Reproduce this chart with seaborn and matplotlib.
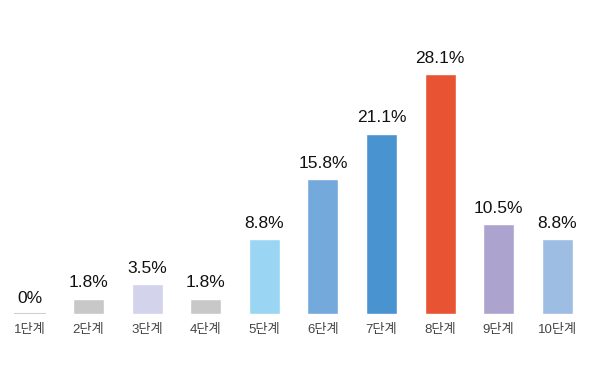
import matplotlib
matplotlib.use("Agg")
import matplotlib.pyplot as plt
import seaborn as sns
import pandas as pd

categories = ["1단계", "2단계", "3단계", "4단계", "5단계", "6단계", "7단계", "8단계", "9단계", "10단계"]
values = [0, 1.8, 3.5, 1.8, 8.8, 15.8, 21.1, 28.1, 10.5, 8.8]
labels = ["0%", "1.8%", "3.5%", "1.8%", "8.8%", "15.8%", "21.1%", "28.1%", "10.5%", "8.8%"]
colors = ["#cfcfcf", "#c8c8c8", "#d3d3ec", "#c8c8c8", "#9ad6f4", "#74a9dc", "#4a93d1", "#e85433", "#aca3cf", "#9dbde3"]

sns.set_theme(style="white")
plt.rcParams["font.family"] = ["Liberation Sans", "Noto Sans CJK KR", "DejaVu Sans"]

df = pd.DataFrame({"cat": categories, "val": values})

fig = plt.figure(figsize=(6, 3.7), dpi=100)
ax = fig.add_axes([0, 0.1514, 1, 0.8486])
sns.barplot(data=df, x="cat", y="val", hue="cat", palette=colors, legend=False,
            width=0.53, ax=ax, saturation=1)

for i, p in enumerate(ax.patches):
    if values[i] == 0:
        p.set_edgecolor(colors[i])
        p.set_linewidth(1.5)
for i, (v, lab) in enumerate(zip(values, labels)):
    ax.annotate(lab, (i, v), xytext=(0, 6), textcoords="offset points",
                ha="center", va="bottom", fontsize=12.5, color="#111111")

ax.set_xlim(-0.512, 9.73)
ax.set_ylim(0, 36.77)
ax.set_xlabel("")
ax.set_ylabel("")
ax.set_yticks([])
ax.tick_params(axis="x", length=0, pad=7, labelsize=9.5, labelcolor="#444444")
for s in ax.spines.values():
    s.set_visible(False)

fig.savefig("out.png", dpi=100)
